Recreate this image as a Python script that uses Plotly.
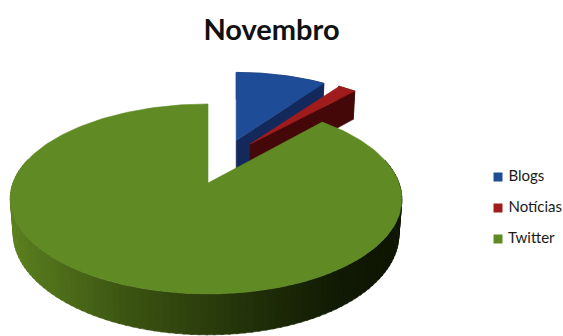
import math
import plotly.graph_objects as go

# Share of mentions per source
categories = ["Blogs", "Notícias", "Twitter"]
values = [9.7, 2.0, 88.3]
top_colors = ["#1F4C96", "#A01C1C", "#5F8A24"]
wall_colors = ["#13295C", "#450808", "#2A3D0C"]
rim_stops = [(0.0, (92, 128, 32)), (0.3, (60, 85, 18)), (0.6, (36, 52, 10)),
             (0.85, (17, 26, 4)), (1.0, (15, 22, 3))]
title_text = "Novembro"

# Perspective camera for the tilted disc (pixels, origin at the Twitter wedge apex)
ORIGIN_X, ORIGIN_Y = 208, 183
RADIUS_X, RADIUS_Y = 193, 92.3
TILT = 0.168
DEPTH = 34
BASE_SHRINK = 0.985
EXPLODE_X = 0.24
EXPLODE_Y = 0.265
SIDE_DRIFT = -2  # the large disc sits slightly left of its wedge apex
FAR_SCALE = 0.97  # wedges pulled away from the viewer read a little narrower

# Legend placement in pixels
LEGEND_X = 498
LEGEND_Y = 177
LEGEND_STEP = 31


def warp(b):
    return 1 - TILT * b


def rim_colour(t):
    for (t0, c0), (t1, c1) in zip(rim_stops, rim_stops[1:]):
        if t <= t1:
            f = (t - t0) / (t1 - t0)
            return "rgb(%d,%d,%d)" % tuple(c0[i] + f * (c1[i] - c0[i]) for i in range(3))
    return "rgb(15,22,3)"


# Wedge angles, clockwise from 12 o'clock
total = sum(values)
angles = []
start = 0.0
for v in values:
    end = start + 2 * math.pi * v / total
    angles.append((start, end))
    start = end

twitter_mid = sum(angles[2]) / 2


def centre_of(i):
    mid = sum(angles[i]) / 2
    return (EXPLODE_X * (math.sin(mid) - math.sin(twitter_mid)),
            EXPLODE_Y * (-math.cos(mid) + math.cos(twitter_mid)))


def point(i, radius, t, lowered=False):
    """Screen position of a polar point on wedge i; radial edges stay upright."""
    ca, cb = centre_of(i)
    b = cb - radius * math.cos(t)
    w = warp(b)
    apex_x = ORIGIN_X + RADIUS_X * ca / warp(cb)
    offset = RADIUS_X * radius * math.sin(t) / w
    if i == 2:
        offset += SIDE_DRIFT * radius * math.sin(t) ** 2
    else:
        offset *= FAR_SCALE
    y = ORIGIN_Y + RADIUS_Y * b / w
    if lowered:
        offset *= BASE_SHRINK
        y += DEPTH / w
    return apex_x + offset, y


def arc(i, t0, t1, n, lowered=False):
    return [point(i, 1, t0 + (t1 - t0) * k / n, lowered) for k in range(n + 1)]


def polygon(fig, pts, colour):
    xs = [p[0] for p in pts] + [pts[0][0]]
    ys = [p[1] for p in pts] + [pts[0][1]]
    fig.add_trace(go.Scatter(x=xs, y=ys, mode="lines", fill="toself", fillcolor=colour,
                             line=dict(width=0.6, color=colour), showlegend=False,
                             hoverinfo="skip"))


fig = go.Figure()

# Blogs and Notícias: outer rim, closing radial wall, then the top face
for i in (0, 1):
    t0, t1 = angles[i]
    apex_top = point(i, 0, t0)
    apex_low = point(i, 0, t0, True)
    polygon(fig, arc(i, t0, t1, 20) + arc(i, t0, t1, 20, True)[::-1], wall_colors[i])
    polygon(fig, [apex_top, point(i, 1, t1), point(i, 1, t1, True), apex_low], wall_colors[i])
    polygon(fig, [apex_top] + arc(i, t0, t1, 40), top_colors[i])

# Twitter: shaded rim built from narrow strips, then the top face
t0, t1 = angles[2]
STRIPS = 110
first, last = math.radians(75), math.radians(285)
for s in range(STRIPS):
    a0 = first + (last - first) * s / STRIPS
    a1 = first + (last - first) * (s + 1.3) / STRIPS
    x_mid = point(2, 1, a0)[0]
    shade = rim_colour(max(0.0, min(1.0, (x_mid - 12) / 388)))
    polygon(fig, arc(2, a0, a1, 2) + arc(2, a0, a1, 2, True)[::-1], shade)

polygon(fig, [point(2, 0, t0)] + arc(2, t0, t1, 240), top_colors[2])

# Key: one swatch and label per category
for k, (name, colour) in enumerate(zip(categories, top_colors)):
    fig.add_trace(go.Scatter(x=[LEGEND_X], y=[LEGEND_Y + k * LEGEND_STEP], mode="markers+text",
                             name=name, text=[" " + name], textposition="middle right",
                             textfont=dict(family="Lato", size=15, color="#1a1a1a"),
                             marker=dict(symbol="square", size=9, color=colour),
                             showlegend=False, cliponaxis=False))

fig.update_layout(
    width=563, height=336, margin=dict(l=0, r=0, t=0, b=0, autoexpand=False),
    paper_bgcolor="white", plot_bgcolor="white", showlegend=False,
    xaxis=dict(range=[0, 563], visible=False, fixedrange=True),
    yaxis=dict(range=[336, 0], visible=False, fixedrange=True),
    title=dict(text="<b>%s</b>" % title_text, x=271.5 / 563, xanchor="center", y=1 - 30 / 336,
               yanchor="middle", font=dict(family="Lato", size=29, color="#111111")),
)

fig.write_html("out.html")
